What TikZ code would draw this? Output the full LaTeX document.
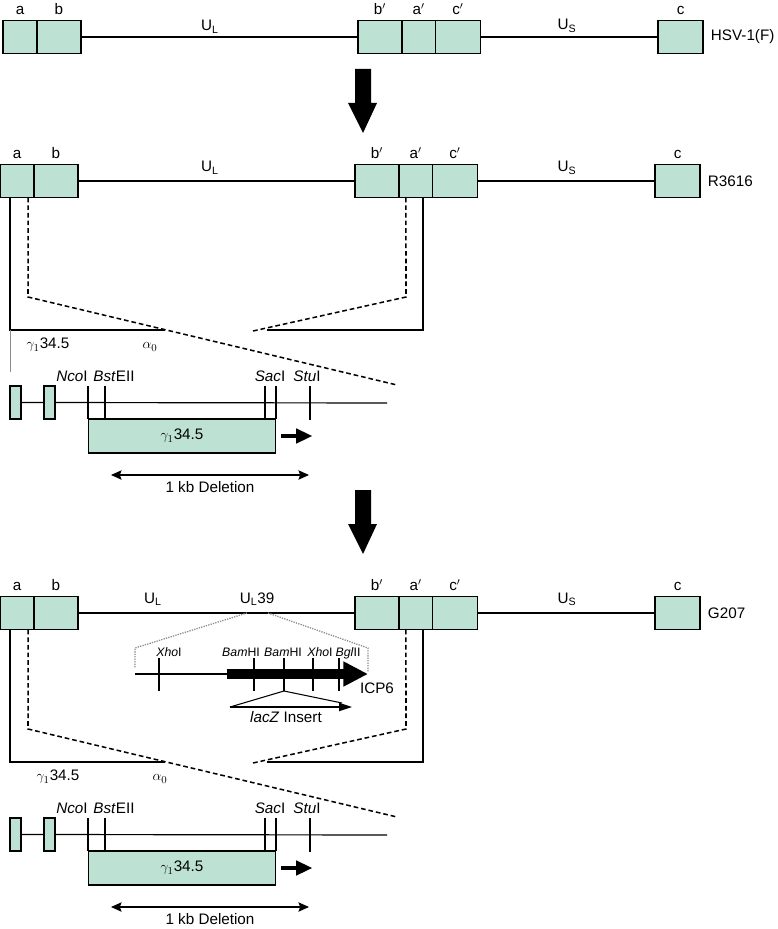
\documentclass[tikz,border=0pt]{standalone}
\usepackage{fontspec}
\setmainfont{Liberation Sans}
\usepackage{amsmath,amssymb}
\usepackage{tikz}
\usetikzlibrary{arrows.meta}
\usetikzlibrary{positioning}
\definecolor{segfill}{RGB}{189,226,211}
\definecolor{dotgray}{RGB}{140,140,140}

\begin{document}
\begin{tikzpicture}[x=0.03cm,y=-0.03cm,
  font=\fontsize{13}{15}\selectfont,
  label distance=4.5pt,
  every label/.style={inner sep=0pt,text depth=0pt},
  seg node/.style={rectangle,draw,line width=1.2pt,fill=segfill,minimum height=28.5pt,inner sep=0pt,outer sep=0pt},
  exon node/.style={rectangle,draw,line width=1.1pt,fill=segfill,minimum width=9.4pt,minimum height=28pt,inner sep=0pt},
  gene node/.style={rectangle,draw,line width=1.2pt,fill=segfill,minimum width=160pt,minimum height=29pt,inner sep=0pt},
  strain node/.style={inner sep=0pt},
  region node/.style={anchor=base,inner sep=0pt},
  site node/.style={anchor=base,inner sep=0pt},
  small site/.style={anchor=base,inner sep=0pt,font=\fontsize{10.5}{12}\selectfont},
  dna/.style={line width=1pt},
  tick/.style={line width=1pt},
  loop/.style={line width=1.3pt},
  dash loop/.style={line width=1.3pt,dash pattern=on 4pt off 2.5pt},
  flank/.style={dotgray,line width=1.1pt,densely dotted},
  gene arrow/.style={line width=4pt,-{Triangle[length=14pt,width=12pt]}},
  icp arrow/.style={line width=8.5pt,-{Triangle[length=21pt,width=20pt]}},
  deletion/.style={line width=1pt,{Stealth[length=9pt,width=8pt,inset=1.5pt]}-{Stealth[length=9pt,width=8pt,inset=1.5pt]}}]
\useasboundingbox (0,0) rectangle (777,929);

\foreach \rw/\y/\dx/\strain in {1/37/3/HSV-1(F),2/181/0/R3616,3/613/0/G207}{
  \node[seg node,minimum width=29pt,anchor=west,label=above:a] (a\rw) at (\dx,\y) {};
  \node[seg node,minimum width=37.5pt,right=0pt of a\rw,label=above:b] (b\rw) {};
  \node[seg node,minimum width=37.5pt,anchor=west,label=above:b$'$] (bp\rw) at (355+\dx,\y) {};
  \node[seg node,minimum width=28.5pt,right=0pt of bp\rw,label=above:a$'$] (ap\rw) {};
  \node[seg node,minimum width=38.5pt,right=0pt of ap\rw,label=above:c$'$] (cp\rw) {};
  \node[seg node,minimum width=38.5pt,anchor=west,label=above:c] (c\rw) at (655+\dx,\y) {};
  \node[strain node,right=6.5pt of c\rw] (name\rw) {\strain};
  \draw[dna] (b\rw) -- (bp\rw) (cp\rw) -- (c\rw);
}

\node[region node] (ul1) at (210,31) {U\textsubscript{L}};
\node[region node] (us1) at (567,30) {U\textsubscript{S}};
\node[region node] (ul2) at (210,172) {U\textsubscript{L}};
\node[region node] (us2) at (567,172) {U\textsubscript{S}};
\node[region node] (ul3) at (153,603) {U\textsubscript{L}};
\node[region node] (ul39) at (257,603) {U\textsubscript{L}39};
\node[region node] (us3) at (567,603) {U\textsubscript{S}};

\foreach \ya in {69,490}
  \fill (355,\ya) -- ++(16,0) -- ++(0,34) -- ++(6,0) -- ++(-14,30) -- ++(-15,-30) -- ++(7,0) -- cycle;

\foreach \m/\oy/\gx in {2/0/0,3/432/10}{
\begin{scope}[shift={(0,\oy)}]
  \draw[loop] ([xshift=8.5pt]a\m.south west) |- (165,330);
  \draw[loop] ([xshift=-8pt]ap\m.south east) |- (267,330);
  \draw[dash loop] ([xshift=24pt]a\m.south west) -- (28,297) -- (397,385);
  \draw[dash loop] ([xshift=6pt]ap\m.south west) -- (406,297) -- (253,331);
  \node (gam\m) at (48+\gx,345) {$\gamma_1$34.5};
  \node (alp\m) at (150+\gx,347) {$\alpha_0$};
  \node[exon node] (exa\m) at (15.5,402.5) {};
  \node[exon node] (exb\m) at (49.5,402.5) {};
  \coordinate (mapend\m) at (387,403);
  \draw[dna] (exa\m) -- (exb\m) (exb\m) -- (mapend\m);
  \node[gene node] (gene\m) at (182,436) {$\gamma_1$34.5};
  \foreach \tx in {88,105,265,276} \draw[tick] (\tx,386) -- (\tx,419);
  \draw[tick] (310,386) -- (310,420);
  \node[site node] (nco\m) at (72,381) {\textit{Nco}I};
  \node[site node] (bst\m) at (114,381) {\textit{Bst}EII};
  \node[site node] (sac\m) at (270,381) {\textit{Sac}I};
  \node[site node] (stu\m) at (307,381) {\textit{Stu}I};
  \draw[gene arrow] ([xshift=3.5pt]gene\m.east) -- ++(32,0);
  \coordinate (dl\m) at (111,475);
  \coordinate (dr\m) at (309,475);
  \draw[deletion] (dl\m) -- node[below=1.5pt] (del\m) {1 kb Deletion} (dr\m);
\end{scope}
}

\draw[dotgray,line width=0.6pt] (10,330) -- (10,372);

\coordinate (ins1) at (247,613);
\coordinate (ins2) at (268,613);
\draw[flank] (ins1) -- (135,648) -- (135,668);
\draw[flank] (ins2) -- (368,648) -- (368,672);
\draw[dna] (135,674) -- (227,674);
\draw[icp arrow] (227,674) -- (368,674);
\foreach \tx in {159,254,284,313,339} \draw[tick] (\tx,658) -- (\tx,691);
\node[small site] (xho1) at (169,656) {\textit{Xho}I};
\node[small site] (bam1) at (241,656) {\textit{Bam}HI};
\node[small site] (bam2) at (283,656) {\textit{Bam}HI};
\node[small site] (xho2) at (320,656) {\textit{Xho}I};
\node[small site] (bgl) at (348,656) {\textit{Bgl}II};
\node (icp) at (377,688) {ICP6};
\coordinate (lz) at (284,691);
\draw[line width=0.9pt] (342,703) -- (lz) -- (230,707);
\draw[line width=0.9pt,-{Triangle[length=11pt,width=7pt]}] (230,707) -- (352,707);
\node (lacz) at (286,717) {\textit{lacZ} Insert};
\end{tikzpicture}
\end{document}
